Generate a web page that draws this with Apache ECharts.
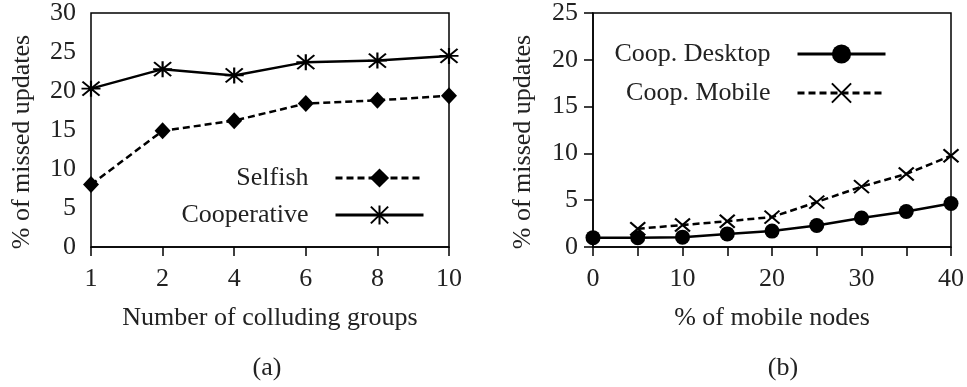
<!DOCTYPE html>
<html>
<head>
<meta charset="utf-8">
<script src="https://cdn.jsdelivr.net/npm/echarts@6/dist/echarts.min.js"></script>
<style>
  html, body { margin: 0; padding: 0; background: #fff; }
  #chart { width: 967px; height: 387px; }
</style>
</head>
<body>
<div id="chart"></div>
<script>
// (a) colluding groups
const groups = ['1', '2', '4', '6', '8', '10']
const selfish = [8.0, 14.9, 16.2, 18.4, 18.8, 19.4]
const cooperative = [20.3, 22.8, 22.0, 23.7, 23.9, 24.5]

// (b) mobile nodes
const mobilePct = [0, 5, 10, 15, 20, 25, 30, 35, 40]
const coopDesktop = [1.0, 1.0, 1.05, 1.4, 1.7, 2.3, 3.1, 3.8, 4.65]
const coopMobile = [null, 1.95, 2.35, 2.75, 3.2, 4.8, 6.45, 7.8, 9.75]

const FONT = 'Liberation Serif'
const asterisk = 'path://M0,8L20,8M10,0L10,16M1,1L19,15M19,1L1,15'
const cross = 'path://M0,0L20,20M20,0L0,20'

const chart = echarts.init(document.getElementById('chart'))

function pairs(xs, ys) {
  return xs.map((x, i) => [x, ys[i]]).filter(p => p[1] != null)
}

const axisLine = { lineStyle: { color: '#000', width: 1.5 } }
const axisTick = { inside: false, length: 9, lineStyle: { color: '#000', width: 1.5 } }
const tickLabel = { color: '#222', fontFamily: FONT, fontSize: 26 }
const nameStyle = { color: '#222', fontFamily: FONT, fontSize: 26 }
const yNameStyle = Object.assign({ padding: [0, 24, 0, 0] }, nameStyle)

function legend(name, right, top) {
  return {
    data: [name],
    right: right,
    top: top,
    padding: 0,
    align: 'right',
    itemWidth: 88,
    itemHeight: 24,
    lineStyle: { width: 3 },
    textStyle: { color: '#222', fontFamily: FONT, fontSize: 26, lineHeight: 26, padding: [0, 22, 0, 0] },
    selectedMode: false
  }
}

const option = {
  animation: false,
  backgroundColor: '#fff',
  title: [
    { text: '(a)', left: 262, top: 350, textAlign: 'center', textStyle: { color: '#222', fontFamily: FONT, fontSize: 26, fontWeight: 'normal' } },
    { text: '(b)', left: 778, top: 350, textAlign: 'center', textStyle: { color: '#222', fontFamily: FONT, fontSize: 26, fontWeight: 'normal' } }
  ],
  legend: [
    legend('Selfish', 542, 165),
    legend('Cooperative', 542, 202),
    legend('Coop. Desktop', 80, 41),
    legend('Coop. Mobile', 80, 80)
  ],
  grid: [
    { left: 91, right: 518, top: 13, bottom: 140, show: true, borderColor: '#000', borderWidth: 1.5 },
    { left: 593, right: 14, top: 13, bottom: 140, show: true, borderColor: '#000', borderWidth: 1.5 }
  ],
  xAxis: [
    {
      gridIndex: 0,
      type: 'category',
      data: groups,
      boundaryGap: false,
      axisLine: axisLine,
      axisTick: axisTick,
      axisLabel: Object.assign({ margin: 19 }, tickLabel),
      splitLine: { show: false },
      name: 'Number of colluding groups',
      nameLocation: 'middle',
      nameGap: 58,
      nameTextStyle: nameStyle
    },
    {
      gridIndex: 1,
      type: 'value',
      min: 0,
      max: 40,
      interval: 5,
      axisLine: axisLine,
      axisTick: axisTick,
      axisLabel: Object.assign({
        margin: 19,
        formatter: v => (v % 10 === 0 ? String(v) : '')
      }, tickLabel),
      splitLine: { show: false },
      name: '% of mobile nodes',
      nameLocation: 'middle',
      nameGap: 58,
      nameTextStyle: nameStyle
    }
  ],
  yAxis: [
    {
      gridIndex: 0,
      type: 'value',
      min: 0,
      max: 30,
      interval: 5,
      axisLine: axisLine,
      axisTick: axisTick,
      axisLabel: Object.assign({ margin: 15 }, tickLabel),
      splitLine: { show: false },
      name: '% of missed updates',
      nameLocation: 'middle',
      nameGap: 56,
      nameTextStyle: yNameStyle
    },
    {
      gridIndex: 1,
      type: 'value',
      min: 0,
      max: 25,
      interval: 5,
      axisLine: axisLine,
      axisTick: axisTick,
      axisLabel: Object.assign({ margin: 15 }, tickLabel),
      splitLine: { show: false },
      name: '% of missed updates',
      nameLocation: 'middle',
      nameGap: 57,
      nameTextStyle: yNameStyle
    }
  ],
  series: [
    {
      name: 'Selfish',
      type: 'line',
      xAxisIndex: 0,
      yAxisIndex: 0,
      data: selfish,
      symbol: 'diamond',
      symbolSize: [16, 17],
      showAllSymbol: true,
      lineStyle: { color: '#000', width: 2.5, type: [7, 4] },
      itemStyle: { color: '#000' }
    },
    {
      name: 'Cooperative',
      type: 'line',
      xAxisIndex: 0,
      yAxisIndex: 0,
      data: cooperative,
      symbol: asterisk,
      symbolSize: [19, 16],
      showAllSymbol: true,
      lineStyle: { color: '#000', width: 2.5 },
      itemStyle: { color: '#000', borderColor: '#000', borderWidth: 2 }
    },
    {
      name: 'Coop. Desktop',
      type: 'line',
      xAxisIndex: 1,
      yAxisIndex: 1,
      data: pairs(mobilePct, coopDesktop),
      symbol: 'circle',
      symbolSize: 15,
      lineStyle: { color: '#000', width: 2.5 },
      itemStyle: { color: '#000' }
    },
    {
      name: 'Coop. Mobile',
      type: 'line',
      xAxisIndex: 1,
      yAxisIndex: 1,
      data: pairs(mobilePct, coopMobile),
      symbol: cross,
      symbolSize: [15, 13],
      lineStyle: { color: '#000', width: 2.5, type: [7, 4] },
      itemStyle: { color: '#000', borderColor: '#000', borderWidth: 2 }
    }
  ]
}

chart.setOption(option)
</script>
</body>
</html>
